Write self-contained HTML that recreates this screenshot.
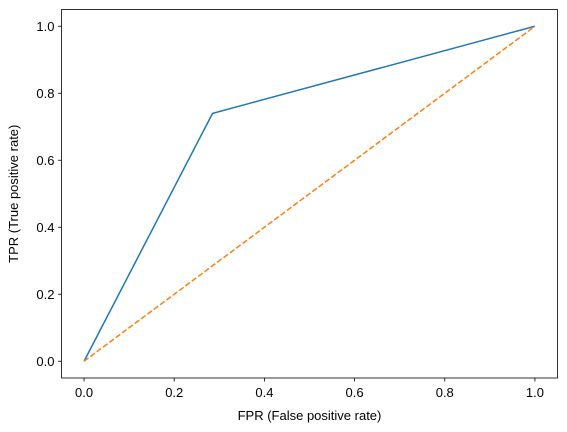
<!DOCTYPE html>
<html><head><meta charset="utf-8"><style>
body{margin:0;background:#fff;}
svg{display:block;font-family:"Liberation Sans","DejaVu Sans",sans-serif;}
</style></head><body>
<svg id="chart" width="567" height="432" viewBox="0 0 567 432"></svg>
<script>
const fpr = [0, 0.285, 1];
const tpr = [0, 0.74, 1];
const diagX = [0, 1];
const diagY = [0, 1];
const xTicks = [0, 0.2, 0.4, 0.6, 0.8, 1.0];
const yTicks = [0, 0.2, 0.4, 0.6, 0.8, 1.0];
const tickLabels = ["0.0","0.2","0.4","0.6","0.8","1.0"];

const L=61.5,R=557.5,T=9.5,B=378;
const xmin=-0.05,xmax=1.05,ymin=-0.05,ymax=1.05;
const sx=v=>L+(v-xmin)/(xmax-xmin)*(R-L);
const sy=v=>B-(v-ymin)/(ymax-ymin)*(B-T);
const svg=document.getElementById('chart');
const NS="http://www.w3.org/2000/svg";
function mk(tag,attrs){const e=document.createElementNS(NS,tag);for(const k in attrs)e.setAttribute(k,attrs[k]);svg.appendChild(e);return e;}

const frame=mk('rect',{x:L,y:T,width:R-L,height:B-T,fill:'none',stroke:'#000','stroke-width':0.8});



xTicks.forEach((v,i)=>{
  const x=sx(v);
  const t=mk('line',{x1:x,x2:x,y1:B,y2:B+3.5,stroke:'#000','stroke-width':0.8});
  
  
  const l=mk('text',{x:x,y:B+19,'text-anchor':'middle','font-size':13,fill:'#000'});
  l.textContent=tickLabels[i];
  
  
});
yTicks.forEach((v,i)=>{
  const y=sy(v);
  const t=mk('line',{x1:L-3.5,x2:L,y1:y,y2:y,stroke:'#000','stroke-width':0.8});
  
  
  const l=mk('text',{x:L-7,y:y+4.5,'text-anchor':'end','font-size':13,fill:'#000'});
  l.textContent=tickLabels[i];
  
  
});

const roc=mk('polyline',{points:fpr.map((v,i)=>sx(v)+','+sy(tpr[i])).join(' '),fill:'none',stroke:'#1f77b4','stroke-width':1.5});


const diag=mk('polyline',{points:diagX.map((v,i)=>sx(v)+','+sy(diagY[i])).join(' '),fill:'none',stroke:'#ff7f0e','stroke-width':1.5,'stroke-dasharray':'5.5,2.4'});



const xt=mk('text',{x:(L+R)/2,y:420,'text-anchor':'middle','font-size':13,fill:'#000'});
xt.textContent='FPR (False positive rate)';


const yt=mk('text',{x:0,y:0,'text-anchor':'middle','font-size':13,fill:'#000',transform:`translate(18,${(T+B)/2}) rotate(-90)`});
yt.textContent='TPR (True positive rate)';


</script>
</body></html>
